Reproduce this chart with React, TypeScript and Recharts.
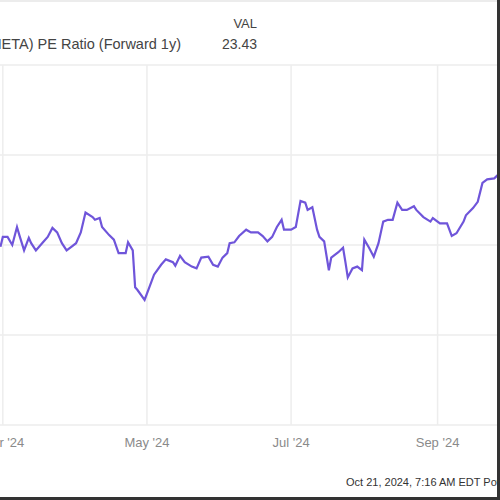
import React from 'react';
import { CartesianGrid, Line, LineChart, XAxis, YAxis } from 'recharts';

// days after 2024-03-01
const days = [
  -1, 0, 2, 4, 6, 7, 9, 11, 12, 14, 17, 19, 21, 23, 25, 27, 29, 31, 33, 35, 38, 39, 41, 42, 45, 47, 49, 52,
  53, 55, 56, 57, 60, 62, 64, 67, 69, 72, 73, 75, 77, 80, 82, 84, 87, 89, 91, 93, 95, 96, 98, 100, 103, 105,
  108, 110, 112, 114, 116, 118, 119, 122, 124, 126, 128, 129, 131, 133, 134, 136, 138, 139, 142, 144, 145,
  146, 148, 150, 152, 153, 155, 157, 159, 161, 163, 165, 167, 169, 171, 174, 175, 178, 181, 182, 185, 188,
  190, 192, 195, 196, 199, 201, 203, 205, 208, 210,
];

const peRatio = [
  21.98, 22.09, 22.09, 22.0, 22.2, 22.11, 21.94, 22.08, 22.02, 21.94, 22.03, 22.09, 22.19, 22.14, 22.02, 21.94,
  21.98, 22.02, 22.14, 22.36, 22.31, 22.28, 22.3, 22.2, 22.11, 22.06, 21.91, 21.91, 22.03, 21.94, 21.53, 21.5,
  21.39, 21.53, 21.67, 21.78, 21.84, 21.81, 21.77, 21.88, 21.81, 21.76, 21.74, 21.86, 21.87, 21.78, 21.76,
  21.86, 21.91, 22.02, 22.03, 22.1, 22.17, 22.14, 22.14, 22.1, 22.04, 22.09, 22.2, 22.28, 22.17, 22.17, 22.2,
  22.49, 22.47, 22.39, 22.42, 22.17, 22.09, 22.04, 21.72, 21.86, 21.92, 21.97, 21.81, 21.64, 21.74, 21.76,
  21.72, 22.06, 21.97, 21.87, 22.02, 22.26, 22.28, 22.28, 22.47, 22.39, 22.39, 22.43, 22.39, 22.31, 22.26,
  22.3, 22.24, 22.24, 22.1, 22.13, 22.26, 22.33, 22.41, 22.48, 22.69, 22.73, 22.74, 22.79,
];

const monthTicks = [0, 61, 122, 184];
const monthLabels = ["Mar '24", "May '24", "Jul '24", "Sep '24"];
const valueTicks = [20, 21, 22, 23, 24];

const seriesName = 'Meta Platforms Inc (META) PE Ratio (Forward 1y)';
const lastValue = '23.43';
const stamp = 'Oct 21, 2024, 7:16 AM EDT  Powered by YCHARTS';

const data = days.map((d, i) => ({ day: d, pe: peRatio[i] }));
const font = '"Liberation Sans", Arial, sans-serif';

export default function App() {
  return (
    <div
      style={{
        position: 'absolute',
        left: 0,
        top: 0,
        width: 500,
        height: 500,
        overflow: 'hidden',
        background: '#fff',
        fontFamily: font,
      }}
    >
      <LineChart
        width={508}
        height={500}
        data={data}
        margin={{ top: 65, right: 0, bottom: 45, left: 0 }}
        style={{ position: 'absolute', left: -9, top: 0 }}
      >
        <CartesianGrid stroke="#ededed" strokeWidth={1.5} />
        <XAxis
          dataKey="day"
          type="number"
          domain={[-5, 210]}
          ticks={monthTicks}
          tickFormatter={(v: number) => monthLabels[monthTicks.indexOf(v)]}
          axisLine={false}
          tickLine={false}
          tickSize={0}
          tickMargin={13}
          height={30}
          tick={{ fill: '#8a8a8a', fontSize: 13, fontFamily: font }}
          interval={0}
        />
        <YAxis hide domain={[20, 24]} ticks={valueTicks} />
        <Line
          type="linear"
          dataKey="pe"
          stroke="#6f55da"
          strokeWidth={2.2}
          dot={false}
          isAnimationActive={false}
        />
      </LineChart>
      <svg width={500} height={500} style={{ position: 'absolute', left: 0, top: 0, pointerEvents: 'none' }}>
        <line x1={0} y1={1} x2={500} y2={1} stroke="#e6e6e6" strokeWidth={1.5} />
        <text x={181} y={49} textAnchor="end" fontSize={14.5} fill="#444" fontFamily={font}>
          {seriesName}
        </text>
        <text x={257} y={28} textAnchor="end" fontSize={13} fill="#444" fontFamily={font}>
          VAL
        </text>
        <text x={257} y={49} textAnchor="end" fontSize={14} fill="#444" fontFamily={font}>
          {lastValue}
        </text>
        <text x={346} y={486} fontSize={11} fill="#333" fontFamily={font}>
          {stamp}
        </text>
        <rect x={497} y={0} width={3} height={500} fill="#333" />
        <rect x={0} y={497} width={500} height={3} fill="#333" />
      </svg>
    </div>
  );
}
